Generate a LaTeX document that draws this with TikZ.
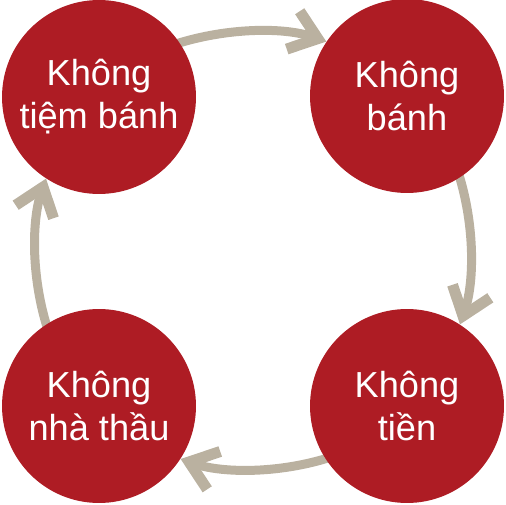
\documentclass[tikz,border=0pt]{standalone}
\usepackage{fontspec}
\setmainfont{Liberation Sans}
\usepackage{tikz}
\usetikzlibrary{arrows.meta,backgrounds}
\definecolor{cakered}{RGB}{174,28,36}
\definecolor{cyclegray}{RGB}{186,177,160}
\tikzstyle{vertex}=[circle,fill=cakered,text=white,minimum size=3.88cm,inner sep=0pt,align=center,font=\fontsize{20.6pt}{24.4pt}\selectfont]
\tikzstyle{edge} = [draw,line width=0.18cm,cyclegray,-{Straight Barb[length=0.52cm,width=0.8cm,line width=0.22cm]},shorten <=-6pt,looseness=0.8]

\begin{document}
\begin{tikzpicture}[x=0.02cm,y=0.02cm]
    \useasboundingbox (0,0) rectangle (506,504);
    	% draw the vertices
	    \foreach \pos/\name/\txt in {{(99,407)/tl/{Không\\tiệm bánh}}, {(407,408)/tr/{Không\\bánh}},
    	                        {(407,98)/br/{Không\\tiền}}, {(99,98)/bl/{Không\\nhà thầu}}}
        \node[vertex] (\name) at \pos {\txt};
    	% arcs of the cycle, behind the vertices
    	\begin{pgfonlayer}{background}
    	\foreach \source/\dest/\a/\b/\o/\i in {tl/tr/34/146/19/161, tr/br/-57/57/-71/71,
    	                                    br/bl/213/-33/199/-19, bl/tl/123/-123/109/-109}
        	\path[edge] (\source.\a) to[out=\o,in=\i] (\dest.\b);
    	\end{pgfonlayer}
\end{tikzpicture}
\end{document}
